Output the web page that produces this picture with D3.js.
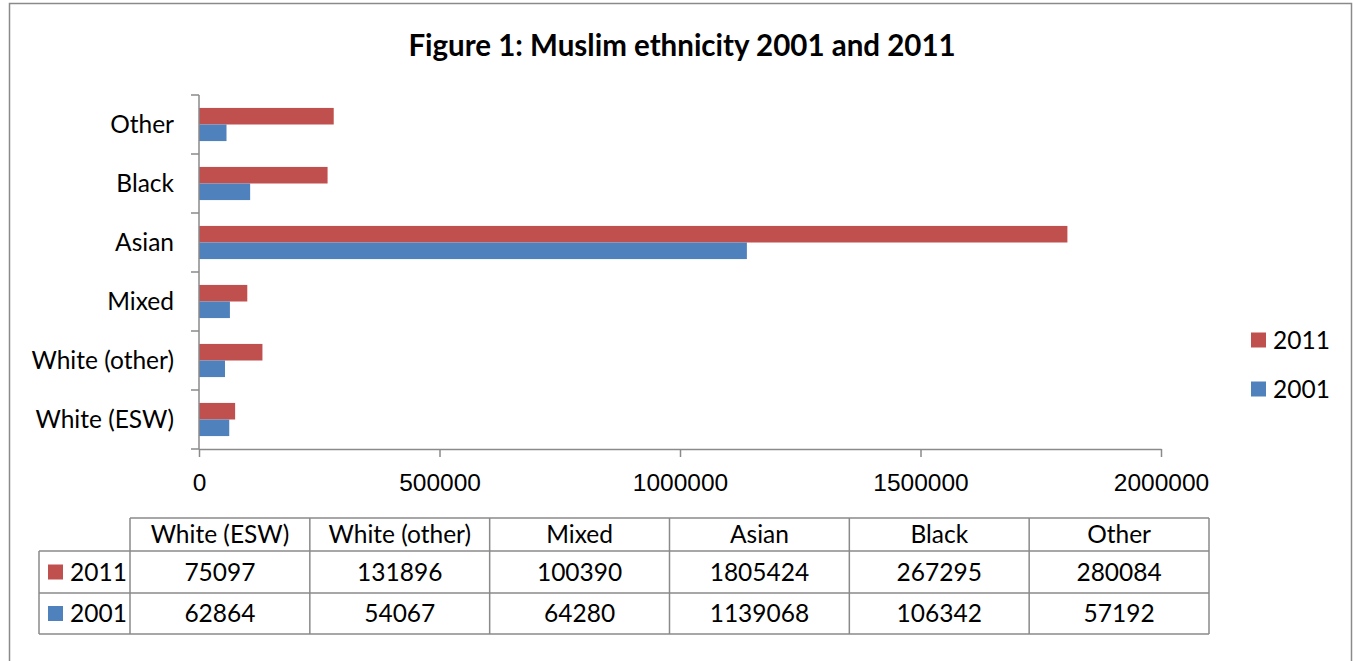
<!DOCTYPE html>
<html>
<head>
<meta charset="utf-8">
<script src="https://cdn.jsdelivr.net/npm/d3@7"></script>
<style>
  body { margin: 0; background: #fff; }
  svg { display: block; font-family: Lato, "Open Sans", sans-serif; }
</style>
</head>
<body>
<svg id="chart"></svg>
<script>
const categories = ["White (ESW)", "White (other)", "Mixed", "Asian", "Black", "Other"];
const seriesNames = ["2011", "2001"];
const values2011 = [75097, 131896, 100390, 1805424, 267295, 280084];
const values2001 = [62864, 54067, 64280, 1139068, 106342, 57192];
const xTicks = [0, 500000, 1000000, 1500000, 2000000];

const colors = {"2011": "#C0504D", "2001": "#4F81BD"};
const seriesValues = {"2011": values2011, "2001": values2001};
const title = "Figure 1: Muslim ethnicity 2001 and 2011";

const W = 1353, H = 661;
const gridColor = "#8a8a8a";
const fontSize = 24.5;
const mid = "0.36em";   // vertical centring of cap height

const svg = d3.select("#chart").attr("width", W).attr("height", H);

// outer frame
svg.append("rect")
   .attr("x", 9.5).attr("y", 3.5)
   .attr("width", 1342).attr("height", 720)
   .attr("fill", "none")
   .attr("stroke", gridColor)
   .attr("stroke-width", 1.5);

svg.append("text")
   .attr("x", 682).attr("y", 45)
   .attr("dy", mid)
   .attr("text-anchor", "middle")
   .attr("font-weight", "bold")
   .attr("font-size", 29.5)
   .text(title);

//--------------SCALES---------------------------------------
const plot = {left: 199, right: 1161, top: 95, bottom: 449};

const x = d3.scaleLinear()
            .domain([0, 2000000])
            .range([plot.left, plot.right]);

const y = d3.scaleBand()
            .domain(categories)
            .range([plot.bottom, plot.top]);

const ySub = d3.scaleBand()
               .domain(seriesNames)
               .range([0, y.bandwidth()])
               .paddingInner(0)
               .paddingOuter(0.78);

//--------------BARS----------------------------------------
const rows = categories.map((c, i) => ({cat: c, vals: seriesNames.map(s => ({key: s, value: seriesValues[s][i]}))}));

svg.append("g")
   .selectAll("g")
   .data(rows)
   .join("g")
     .attr("transform", d => `translate(0,${y(d.cat)})`)
   .selectAll("rect")
   .data(d => d.vals)
   .join("rect")
     .attr("x", x(0))
     .attr("y", d => ySub(d.key))
     .attr("width", d => x(d.value) - x(0))
     .attr("height", ySub.bandwidth())
     .attr("fill", d => colors[d.key]);

//--------------AXES----------------------------------------
const xAxis = svg.append("g")
   .attr("transform", `translate(0,${plot.bottom})`)
   .call(d3.axisBottom(x)
           .tickValues(xTicks)
           .tickFormat(d3.format("d"))
           .tickSizeInner(8)
           .tickSizeOuter(0)
           .tickPadding(25));
xAxis.select(".domain").attr("stroke", gridColor).attr("stroke-width", 1.5);
xAxis.selectAll(".tick line").attr("stroke", gridColor).attr("stroke-width", 1.5);
xAxis.selectAll(".tick text")
     .attr("font-size", fontSize).attr("font-family", null).attr("fill", "#000")
     .attr("dy", mid);

// y axis: line with ticks at category boundaries
const yAxis = svg.append("g");
yAxis.append("line")
   .attr("x1", x(0)).attr("x2", x(0))
   .attr("y1", plot.top).attr("y2", plot.bottom)
   .attr("stroke", gridColor).attr("stroke-width", 1.5);
const bounds = categories.map(c => y(c)).concat([plot.bottom]);
yAxis.selectAll("line.tk")
   .data(bounds)
   .join("line")
     .attr("class", "tk")
     .attr("x1", x(0) - 8).attr("x2", x(0))
     .attr("y1", d => d).attr("y2", d => d)
     .attr("stroke", gridColor).attr("stroke-width", 1.5);
yAxis.selectAll("text")
   .data(categories)
   .join("text")
     .attr("x", 174)
     .attr("y", d => y(d) + y.bandwidth() / 2)
     .attr("dy", mid)
     .attr("text-anchor", "end")
     .attr("font-size", fontSize)
     .text(d => d);

//--------------LEGEND----------------------------------------
const legend = svg.append("g")
   .selectAll("g")
   .data(seriesNames)
   .join("g")
     .attr("transform", (d, i) => `translate(1251,${340 + i * 49})`);
legend.append("rect")
   .attr("x", 0).attr("y", -7.5)
   .attr("width", 15).attr("height", 15)
   .attr("fill", d => colors[d]);
legend.append("text")
   .attr("x", 22).attr("y", 0)
   .attr("dy", mid)
   .attr("font-size", fontSize)
   .text(d => d);

//--------------DATA TABLE----------------------------------------
const colX = d3.scaleBand()
               .domain(categories)
               .range([130, 1209]);
// header row is a little shorter than the value rows
const rowKeys = ["header"].concat(seriesNames);
const rowEdges = [518, 551, 593, 634];
const rowTop = k => rowEdges[rowKeys.indexOf(k)];
const rowMid = k => (rowEdges[rowKeys.indexOf(k)] + rowEdges[rowKeys.indexOf(k) + 1]) / 2;
const tableBottom = rowEdges[rowEdges.length - 1];
const labelLeft = 39;
const tableRight = colX.range()[1];

const table = svg.append("g")
   .attr("stroke", gridColor)
   .attr("stroke-width", 1.5);

// horizontal lines
table.append("line")
   .attr("x1", colX.range()[0]).attr("x2", tableRight)
   .attr("y1", rowTop("header")).attr("y2", rowTop("header"));
table.selectAll("line.h")
   .data(seriesNames)
   .join("line")
     .attr("class", "h")
     .attr("x1", labelLeft).attr("x2", tableRight)
     .attr("y1", d => rowTop(d)).attr("y2", d => rowTop(d));
table.append("line")
   .attr("x1", labelLeft).attr("x2", tableRight)
   .attr("y1", tableBottom).attr("y2", tableBottom);

// vertical lines
table.append("line")
   .attr("x1", labelLeft).attr("x2", labelLeft)
   .attr("y1", rowTop(seriesNames[0])).attr("y2", tableBottom);
table.selectAll("line.v")
   .data(categories.map(c => colX(c)).concat([tableRight]))
   .join("line")
     .attr("class", "v")
     .attr("x1", d => d).attr("x2", d => d)
     .attr("y1", rowTop("header")).attr("y2", tableBottom);

const tText = svg.append("g").attr("font-size", fontSize).attr("text-anchor", "middle");
tText.selectAll("text.hd")
   .data(categories)
   .join("text")
     .attr("class", "hd")
     .attr("x", d => colX(d) + colX.bandwidth() / 2)
     .attr("y", rowMid("header"))
     .attr("dy", mid)
     .text(d => d);

seriesNames.forEach(s => {
  const cy = rowMid(s);
  tText.selectAll("text.v" + s)
     .data(seriesValues[s])
     .join("text")
       .attr("class", "v" + s)
       .attr("x", (d, i) => colX(categories[i]) + colX.bandwidth() / 2)
       .attr("y", cy)
       .attr("dy", mid)
       .text(d => d);
  svg.append("rect")
     .attr("x", 48).attr("y", cy - 7.5)
     .attr("width", 15).attr("height", 15)
     .attr("fill", colors[s]);
  svg.append("text")
     .attr("x", 70).attr("y", cy)
     .attr("dy", mid)
     .attr("font-size", fontSize)
     .text(s);
});
</script>
</body>
</html>
